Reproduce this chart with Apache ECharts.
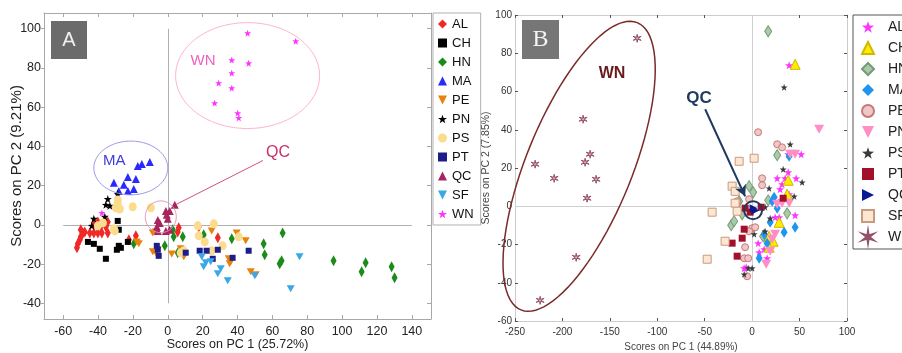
<!DOCTYPE html>
<html><head><meta charset="utf-8">
<script src="https://cdn.jsdelivr.net/npm/echarts@6/dist/echarts.min.js"></script>
<style>html,body{margin:0;padding:0;background:#fff}#c{width:902px;height:353px}</style>
</head><body><div id="c"></div>
<script>
const SANS = "'Liberation Sans',Arial,sans-serif";
const groups = ['AL','CH','HN','MA','PE','PN','PS','PT','QC','SF','WN'];
const xTicksA = [-60,-40,-20,0,20,40,60,80,100,120,140];
const yTicksA = [-40,-20,0,20,40,60,80,100];

// Panel A (PC1 25.72%, PC2 9.21%)
const A_AL = [[-52.1,-11.7],[-51.6,-9.7],[-50.4,-7.6],[-49.9,-6.1],[-48.7,-4.1],[-49.9,-2.5],[-47.6,-3.6],[-44.7,-4.1],[-42.4,-4.1],[-40.1,-4.1],[-37.8,-4.1],[-34.4,-4.1],[-42.4,0.5],[-40.1,1.5],[-34.4,1.5],[-38.4,-1.0],[-35.5,-1.0],[-18.3,-5.6],[-22.3,-7.6],[6.3,-1.5],[5.7,-3.6],[17.8,-1.0],[28.7,-6.6]];
const A_CH = [[-28.7,2.0],[-28.1,-2.5],[-45.8,-8.7],[-42.4,-9.7],[-39.0,-12.2],[-35.5,-17.3],[-29.2,-12.7],[-28.1,-10.7],[-26.9,-11.7],[-22.9,-8.7]];
const A_HN = [[-19.5,-9.7],[2.9,-2.5],[3.4,-6.1],[8.6,-6.1],[-1.7,-10.7],[5.7,-14.2],[20.6,-5.1],[36.7,-7.1],[55.0,-9.7],[55.6,-15.3],[65.9,-4.1],[64.2,-19.8],[65.3,-18.3],[95.1,-18.3],[111.2,-23.9],[113.5,-19.3],[128.4,-21.4],[130.1,-27.0]];
const A_MA = [[-17.2,30.0],[-14.9,31.0],[-10.3,32.1],[-30.9,21.4],[-22.9,24.4],[-18.3,23.4],[-25.2,20.4],[-28.1,17.3],[-22.9,17.3],[-19.5,18.3]];
const A_PE = [[-17.8,-8.7],[-16.6,-9.7],[-8.6,-4.1],[-6.9,-3.6],[-8.6,-13.7],[-6.9,-14.2],[-5.7,-12.7],[2.3,-14.8],[7.4,-12.2],[9.2,-16.3],[25.2,-3.1],[39.5,-4.1],[44.7,-8.1],[35.0,-17.3],[35.5,-19.8],[36.1,-18.8],[47.6,-23.9],[50.4,-25.4]];
const A_PN = [[-34.4,13.2],[-35.5,10.2],[-33.2,9.7],[-28.7,15.8],[-36.1,4.1],[-42.4,3.1],[-43.6,-0.5]];
const A_PS = [[-28.7,12.7],[-28.7,11.2],[-29.8,8.7],[-27.5,8.1],[-20.1,9.2],[-9.7,8.7],[-40.1,-0.5],[-37.2,1.0],[-30.9,-2.0],[-30.4,-3.1],[7.4,-14.2],[9.2,-13.2],[17.2,-0.5],[17.8,-5.6],[21.2,-8.7],[25.2,-13.2],[26.4,0.5],[31.5,-10.7],[40.7,-6.1]];
const A_PT = [[-6.3,-10.7],[-5.7,-12.7],[-5.2,-15.8],[10.3,-14.2],[18.3,-13.2],[22.3,-13.2],[25.8,-17.3],[28.7,-12.7],[37.2,-16.8],[46.4,-13.2]];
const A_QC = [[4.0,10.2],[-1.1,7.1],[1.1,7.1],[-0.6,5.1],[-5.7,2.5],[-4.6,1.0],[-6.3,-1.0],[-5.7,-3.1],[-1.1,-3.1],[1.1,-2.5],[0,3.1]];
const A_SF = [[19.5,-16.3],[21.8,-19.3],[20.6,-21.4],[30.4,-22.4],[28.7,-24.9],[34.4,-28.5],[49.9,-26.0],[75.6,-16.3],[70.5,-32.6],[24.6,-18.8]];
const A_WN = [[45.8,97.7],[73.4,93.6],[36.7,84.0],[46.4,82.4],[36.7,77.4],[36.7,69.7],[40.1,57.0],[40.7,54.5],[29.2,72.3],[26.9,62.1],[-37.8,6.1]];

// Panel B (PC1 44.89%, PC2 7.85%)
const B_AL = [[39.0,73.7],[38.0,27.2],[51.7,27.2],[38.0,17.8],[26.4,14.6],[34.8,14.6],[46.4,14.6],[31.6,11.5],[29.5,8.9],[39.0,6.3],[24.2,-5.8],[28.5,-5.8],[45.3,-4.7],[6.3,-19.3],[12.7,-22.5],[19.0,-22.5],[7.4,-24.1],[15.8,-27.2],[-8.4,-32.4],[-6.3,-31.9]];
const B_CH = [[45.3,74.2],[38.0,13.6],[36.9,6.3],[28.5,-8.4],[17.9,-15.7],[22.1,-18.3],[17.9,-21.4]];
const B_HN = [[16.9,91.5],[26.4,26.7],[-3.2,10.5],[1.1,7.3],[-22.1,-9.9],[-19.0,-7.8],[16.9,3.1],[36.9,-3.7],[11.6,-15.7],[-13.7,2.6],[-10.5,-4.2]];
const B_MA = [[39.0,26.1],[23.2,4.7],[26.4,-1.0],[19.0,-8.4],[33.7,-13.6],[45.3,-11.0],[12.7,-14.6],[15.8,-19.3],[7.4,-27.2],[21.1,2.6]];
const B_PE = [[6.3,38.7],[26.4,32.4],[31.6,30.8],[10.5,14.6],[10.5,11.0],[-3.2,3.7],[0,-11.5],[3.2,-11.0],[-3.2,-13.1],[-7.4,-21.4],[-8.4,-27.2],[-4.2,-27.2],[-5.3,-36.6],[-15.8,2.6]];
const B_PN = [[70.6,40.3],[40.1,27.2],[45.3,27.2],[31.6,1.6],[39.0,1.6],[26.4,1.0],[24.2,-14.6],[21.1,-17.3],[19.0,-23.5],[14.8,-30.3]];
const B_PS = [[33.7,62.2],[40.1,32.4],[32.7,19.3],[52.7,12.5],[44.3,5.2],[17.9,9.4],[13.7,-0.5],[19.0,-6.3],[13.7,-13.1],[2.1,-14.6],[0,-32.4],[-4.2,-32.4],[-8.4,-35.6]];
const B_PT = [[32.7,4.2],[9.5,-0.5],[-7.4,-1.0],[-8.4,-12.0],[-10.5,-16.7],[-21.1,-19.3],[-15.8,-26.1],[-2.1,-3.1]];
const B_QC = [[1.5,-1.0],[3.5,-2.2]];
const B_SF = [[-13.7,23.5],[2.1,25.1],[-21.1,10.5],[-17.9,7.8],[-17.9,1.6],[-15.8,-2.6],[-42.2,-3.1],[-28.5,-18.3],[-47.4,-27.7]];
const B_WN = [[-121.2,87.8],[-178.2,45.5],[-170.8,27.2],[-176.1,23.0],[-228.8,22.0],[-208.7,14.6],[-164.5,14.1],[-174.0,4.2],[-185.5,-26.7],[-223.5,-49.2]];

const dataA = {AL:A_AL,CH:A_CH,HN:A_HN,MA:A_MA,PE:A_PE,PN:A_PN,PS:A_PS,PT:A_PT,QC:A_QC,SF:A_SF,WN:A_WN};
const dataB = {AL:B_AL,CH:B_CH,HN:B_HN,MA:B_MA,PE:B_PE,PN:B_PN,PS:B_PS,PT:B_PT,QC:B_QC,SF:B_SF,WN:B_WN};

const STAR = 'path://M5,0L6.18,3.38L9.76,3.45L6.9,5.62L7.94,9.05L5,7L2.06,9.05L3.1,5.62L0.24,3.45L3.82,3.38Z';
const DOWN = 'path://M0,0L10,0L5,10Z';
const RIGHT = 'path://M0,0L10,5L0,10Z';
const ASTER = 'path://M5,0L5.6,3.8L9.3,2.5L6.2,5L9.3,7.5L5.6,6.2L5,10L4.4,6.2L0.7,7.5L3.8,5L0.7,2.5L4.4,3.8Z';

const styleA = {
  AL:{s:'diamond',z:[6,11],c:'#f02828'}, CH:{s:'rect',z:6,c:'#000000'}, HN:{s:'diamond',z:[6,11],c:'#1b8c1b'},
  MA:{s:'triangle',z:8,c:'#2a2aff'}, PE:{s:DOWN,z:[8,7],c:'#e8820c'}, PN:{s:STAR,z:8,c:'#000000'},
  PS:{s:'circle',z:[8,9],c:'#fadc8c'}, PT:{s:'rect',z:6,c:'#1c1c8a'}, QC:{s:'triangle',z:8,c:'#a8245e'},
  SF:{s:DOWN,z:[8,7],c:'#38a8e6'}, WN:{s:STAR,z:7,c:'#ff33ff'}
};
const styleB = {
  AL:{s:STAR,z:8,c:'#ff33ff'}, CH:{s:'triangle',z:10,c:'#ffec00',b:'#d0b800'}, HN:{s:'diamond',z:[7,11],c:'#a8cca8',b:'#789878'},
  MA:{s:'diamond',z:[7,11],c:'#1e96ee'}, PE:{s:'circle',z:7,c:'#f2c6c6',b:'#c27a7a'}, PN:{s:DOWN,z:[10,9],c:'#ff8ec4'},
  PS:{s:STAR,z:7,c:'#3a3a3a'}, PT:{s:'rect',z:7,c:'#a3102c'}, QC:{s:RIGHT,z:8,c:'#0a1a90'},
  SF:{s:'rect',z:8,c:'#fde6d2',b:'#c89a80'}, WN:{s:ASTER,z:8,c:'#dcb8c6',b:'#94506a'}
};

const chart = echarts.init(document.getElementById('c'), null, {renderer:'canvas'});

function axisBase(extra){ return Object.assign({type:'value', splitLine:{show:false}, nameMoveOverlap:false}, extra); }

const series = [];
groups.forEach((g,i)=>{
  const st = styleA[g];
  const s = {type:'scatter', name:g, xAxisIndex:0, yAxisIndex:0, data:dataA[g], symbol:st.s, symbolSize:st.z,
    itemStyle:{color:st.c, opacity:1}, z:3, animation:false};
  if(i===0){
    s.markLine = {silent:true, symbol:['none','none'], label:{show:false}, z:1, animation:false,
      lineStyle:{color:'#b0b0b0', width:1, type:'solid'},
      data:[
        [{coord:[0,100]},{coord:[0,-40]}],
        [{coord:[-60,0]},{coord:[140,0]}],
        [{coord:[54.6,32.8], lineStyle:{color:'#d4507e',width:1}},{coord:[4.8,10.4]}]
      ]};
  }
  series.push(s);
});
groups.forEach((g,i)=>{
  const st = styleB[g];
  const s = {type:'scatter', name:'B:'+g, xAxisIndex:2, yAxisIndex:2, data:dataB[g], symbol:st.s, symbolSize:st.z,
    itemStyle:{color:st.c, borderColor:st.b||st.c, borderWidth:st.b?1:0, opacity:1}, z:3, animation:false};
  if(i===0){
    s.markLine = {silent:true, symbol:['none','none'], label:{show:false}, z:1, animation:false,
      lineStyle:{color:'#cfcfcf', width:1, type:'solid'},
      data:[
        [{coord:[0,-60]},{coord:[0,100]}],
        [{coord:[-250,0]},{coord:[100,0]}]
      ]};
  }
  if(g==='QC'){
    s.markLine = {silent:true, label:{show:false}, z:5, animation:false, symbolSize:[9,11],
      lineStyle:{color:'#1f3a5f', width:2, type:'solid'},
      data:[[{coord:[-49.5,50.7], symbol:'none'},{coord:[-7.4,5.2], symbol:'arrow'}]]};
  }
  series.push(s);
});

const option = {
  backgroundColor:'#fff',
  animation:false,
  grid:[
    {left:44, top:13, width:387, height:306, show:false, containLabel:false, outerBoundsMode:'none'},
    {left:515, top:15, width:332, height:306, show:false, containLabel:false, outerBoundsMode:'none'}
  ],
  xAxis:[
    axisBase({gridIndex:0, min:-71, max:151, position:'bottom',
      name:'Scores on PC 1 (25.72%)', nameLocation:'middle', nameGap:19,
      nameTextStyle:{fontFamily:SANS, fontSize:12.5, color:'#222'},
      axisLine:{show:true, onZero:false, lineStyle:{color:'#a8a8a8'}},
      axisTick:{show:true, inside:true, length:4, customValues:xTicksA, lineStyle:{color:'#a8a8a8'}},
      axisLabel:{customValues:xTicksA, margin:6, fontFamily:SANS, fontSize:12.5, color:'#222'}}),
    axisBase({gridIndex:0, min:-71, max:151, position:'top',
      axisLine:{show:true, onZero:false, lineStyle:{color:'#a8a8a8'}},
      axisTick:{show:true, inside:true, length:4, customValues:xTicksA, lineStyle:{color:'#a8a8a8'}},
      axisLabel:{show:false}}),
    axisBase({gridIndex:1, min:-250, max:100, interval:50, position:'bottom',
      name:'Scores on PC 1 (44.89%)', nameLocation:'middle', nameGap:21,
      nameTextStyle:{fontFamily:SANS, fontSize:10, color:'#444'},
      axisLine:{show:true, onZero:false, lineStyle:{color:'#cccccc'}},
      axisTick:{show:true, inside:true, length:3, lineStyle:{color:'#555'}},
      axisLabel:{margin:6, fontFamily:SANS, fontSize:10, color:'#333', showMinLabel:true, showMaxLabel:true}}),
    axisBase({gridIndex:1, min:-250, max:100, interval:50, position:'top',
      axisLine:{show:true, onZero:false, lineStyle:{color:'#cccccc'}},
      axisTick:{show:true, inside:true, length:3, lineStyle:{color:'#555'}},
      axisLabel:{show:false}})
  ],
  yAxis:[
    axisBase({gridIndex:0, min:-48, max:108, position:'left',
      name:'Scores on PC 2 (9.21%)', nameLocation:'middle', nameGap:20,
      nameTextStyle:{fontFamily:SANS, fontSize:15, color:'#222'},
      axisLine:{show:true, onZero:false, lineStyle:{color:'#a8a8a8'}},
      axisTick:{show:true, inside:false, length:3, customValues:yTicksA, lineStyle:{color:'#a8a8a8'}},
      axisLabel:{customValues:yTicksA, margin:3, fontFamily:SANS, fontSize:12.5, color:'#222'}}),
    axisBase({gridIndex:0, min:-48, max:108, position:'right',
      axisLine:{show:true, onZero:false, lineStyle:{color:'#a8a8a8'}},
      axisTick:{show:true, inside:true, length:4, customValues:yTicksA, lineStyle:{color:'#a8a8a8'}},
      axisLabel:{show:false}}),
    axisBase({gridIndex:1, min:-60, max:100, interval:20, position:'left',
      name:'Scores on PC 2 (7.85%)', nameLocation:'middle', nameGap:23,
      nameTextStyle:{fontFamily:SANS, fontSize:10.5, color:'#444'},
      axisLine:{show:true, onZero:false, lineStyle:{color:'#cccccc'}},
      axisTick:{show:true, inside:true, length:3, lineStyle:{color:'#555'}},
      axisLabel:{margin:3, fontFamily:SANS, fontSize:10, color:'#333'}}),
    axisBase({gridIndex:1, min:-60, max:100, interval:20, position:'right',
      axisLine:{show:true, onZero:false, lineStyle:{color:'#cccccc'}},
      axisTick:{show:true, inside:true, length:3, lineStyle:{color:'#555'}},
      axisLabel:{show:false}})
  ],
  legend:[
    {left:433, top:13, orient:'vertical', data:groups, itemWidth:9, itemHeight:9, itemGap:5,
     padding:[4,7,4,5], borderColor:'#b0b0b0', borderWidth:1, selectedMode:false,
     textStyle:{fontFamily:SANS, fontSize:13, color:'#111', lineHeight:14}},
    {left:853, top:15, orient:'vertical', data:groups.map(g=>'B:'+g), formatter:n=>n.slice(2),
     itemWidth:12, itemHeight:12, itemGap:5, padding:[4,30,4,8], borderColor:'#555', borderWidth:1, selectedMode:false,
     textStyle:{fontFamily:SANS, fontSize:14, color:'#222', lineHeight:16, padding:[0,0,0,9]}}
  ],
  series:series
};
chart.setOption(option);

// annotations placed through the axes' own scales
function ellipse(seriesIndex, c, u, v, color, width){
  const pts=[];
  for(let k=0;k<=96;k++){
    const t=k/96*Math.PI*2;
    const d=[c[0]+Math.cos(t)*u[0]+Math.sin(t)*v[0], c[1]+Math.cos(t)*u[1]+Math.sin(t)*v[1]];
    pts.push(chart.convertToPixel({seriesIndex:seriesIndex}, d));
  }
  return {type:'polyline', shape:{points:pts}, style:{stroke:color, lineWidth:width, fill:null}, silent:true, z:10};
}
function label(seriesIndex, d, text, color, font){
  const p = chart.convertToPixel({seriesIndex:seriesIndex}, d);
  return {type:'text', x:p[0], y:p[1], style:{text:text, fill:color, font:font, textAlign:'center', textVerticalAlign:'middle'}, silent:true, z:10};
}
const bSeries = 11;
const qcCenter = chart.convertToPixel({seriesIndex:bSeries}, [1.0,-2.1]);
chart.setOption({graphic:[
  {type:'rect', shape:{x:51,y:21,width:36,height:38}, style:{fill:'#6b6b6b'}, z:10},
  {type:'text', x:69, y:40, style:{text:'A', fill:'#f0f0f0', font:"20px "+SANS, textAlign:'center', textVerticalAlign:'middle'}, z:11},
  {type:'rect', shape:{x:522,y:20,width:37,height:39}, style:{fill:'#767676'}, z:10},
  {type:'text', x:540.5, y:40, style:{text:'B', fill:'#f4f4f4', font:"24px 'Liberation Serif','DejaVu Serif',serif", textAlign:'center', textVerticalAlign:'middle'}, z:11},
  ellipse(0, [45.8,76.1], [41.3,0], [0,27.0], '#ffb3d4', 1),
  ellipse(0, [-21.2,29.0], [21.2,0], [0,13.7], '#9a9ae6', 1),
  ellipse(0, [-4.0,4.1], [8.9,0], [0,8.1], '#e296b6', 1),
  label(0, [20.2,83.7], 'WN', '#f25fc2', "15px "+SANS),
  label(0, [-30.7,32.8], 'MA', '#3c3cdc', "15px "+SANS),
  label(0, [63.2,36.9], 'QC', '#c8306c', "16px "+SANS),
  ellipse(bSeries, [-182.4,20.9], [61.3,75.1], [51.8,-10.4], '#7a2a2a', 1.5),
  label(bSeries, [-147.7,69.5], 'WN', '#6b1a1a', "bold 16px "+SANS),
  label(bSeries, [-55.9,56.5], 'QC', '#1f3a5f', "bold 17px "+SANS),
  {type:'circle', shape:{cx:qcCenter[0], cy:qcCenter[1], r:9}, style:{stroke:'#1f3a5f', lineWidth:2, fill:null}, silent:true, z:10}
]});
</script>
</body></html>
